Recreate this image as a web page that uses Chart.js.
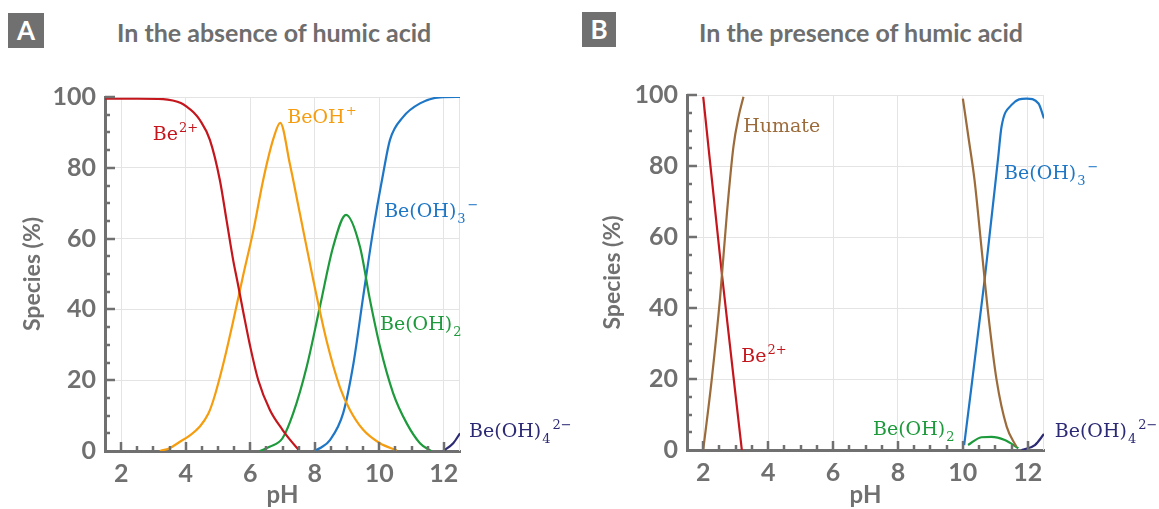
<!DOCTYPE html>
<html>
<head>
<meta charset="utf-8">
<script src="https://cdn.jsdelivr.net/npm/chart.js@4.4.1/dist/chart.umd.min.js"></script>
<style>
    body { margin: 0; width: 1159px; height: 509px; background: #fff; position: relative; overflow: hidden; font-family: Lato, sans-serif; }
    .panel { position: absolute; top: 0; height: 509px; }
    .badge { position: absolute; background: #707070; color: #fff; font: bold 26px Lato, sans-serif; text-align: center; }
    .title { position: absolute; color: #6e6e6e; font: bold 25px Lato, sans-serif; white-space: nowrap; line-height: 30px; }
</style>
</head>
<body>
<div class="badge" style="left:8px;top:13px;width:36px;height:35px;line-height:35px">A</div>
<div class="title" style="left:117px;top:17px">In the absence of humic acid</div>
<div class="badge" style="left:582px;top:12px;width:34px;height:35px;line-height:35px">B</div>
<div class="title" style="left:699px;top:17px">In the presence of humic acid</div>
<div class="panel" style="left:0;width:580px"><canvas id="chartA"></canvas></div>
<div class="panel" style="left:580px;width:579px"><canvas id="chartB"></canvas></div>

<script>
// ---- data: panel A (no humic acid) ----
const phA_be = [1.5, 2.5, 3.3, 3.6, 3.85, 4.03, 4.25, 4.44, 4.75, 5.06, 5.27, 5.47, 5.6, 5.79, 6.0, 6.25, 6.61, 7.0, 7.25, 7.5];
const pctA_be = [99.5, 99.5, 99.4, 99, 98.3, 97.3, 95.6, 93.5, 87.9, 76.5, 65, 54, 48, 39, 29.5, 20, 11.6, 6, 3, 0.3];
const phA_beoh = [3.2, 3.5, 3.82, 4.1, 4.44, 4.7, 4.86, 5.17, 5.48, 5.79, 6.1, 6.4, 6.72, 6.93, 7.23, 7.54, 7.96, 8.37, 8.78, 9.09, 9.5, 10.02, 10.54];
const pctA_beoh = [0, 0.8, 2.6, 4.2, 6.9, 10.5, 14.4, 24.8, 37, 50, 62.4, 76.5, 88.3, 92.7, 81, 67, 48, 31, 18, 11.6, 6, 2.2, 0.2];
const phA_oh2 = [6.3, 6.6, 7.0, 7.33, 7.75, 8.16, 8.57, 8.97, 9.4, 9.71, 10.02, 10.43, 10.85, 11.26, 11.6];
const pctA_oh2 = [0, 1.2, 3.6, 10.6, 23.8, 40.8, 57.7, 66.7, 57.7, 42.7, 29.5, 16.3, 7.8, 2.2, 0];
const phA_oh3 = [7.96, 8.2, 8.47, 8.88, 9.2, 9.5, 9.81, 10.12, 10.33, 10.74, 11.26, 11.88, 12.5];
const pctA_oh3 = [0, 1, 3.1, 10.7, 24.8, 43.6, 62.4, 78.4, 87.9, 94.4, 98.2, 99.9, 100];
const phA_oh4 = [11.98, 12.29, 12.5];
const pctA_oh4 = [0, 2.2, 5.0];

// ---- data: panel B (humic acid present) ----
const phB_be = [2.0, 2.57, 3.19];
const pctB_be = [99.5, 50, 0];
const phB_humLow = [2.0, 2.26, 2.52, 2.73, 2.93, 3.09, 3.24];
const pctB_humLow = [0, 19.7, 43, 66.7, 85.4, 93.9, 99.5];
const phB_humHigh = [10.0, 10.18, 10.36, 10.57, 10.78, 11.04, 11.35, 11.65];
const pctB_humHigh = [99, 87.6, 76, 57.3, 38.5, 19.7, 6.6, 0.9];
const phB_oh3 = [10.04, 10.67, 11.09, 11.19, 11.5, 11.96, 12.33, 12.5];
const pctB_oh3 = [1.4, 47.9, 82.6, 91, 97.2, 99, 97.6, 93.4];
const phB_oh2 = [10.16, 10.57, 10.88, 11.29, 11.71];
const pctB_oh2 = [1.4, 3.6, 3.7, 2.8, 0.5];
const phB_oh4 = [11.81, 12.22, 12.5];
const pctB_oh4 = [0, 1.4, 4.5];

// ---- axes ----
const xTicks = [2, 4, 6, 8, 10, 12];
const yTicks = [0, 20, 40, 60, 80, 100];

const RED = '#c4161c', ORANGE = '#f59d0e', GREEN = '#1d9a3b', BLUE = '#1e76c6', NAVY = '#2c2a74', BROWN = '#9c6b3b';
const AXIS = '#707070', GRID = '#e4e4e4';

// species labels: x = pH of left edge, y = baseline value
const labelsA = [
    { x: 2.98, y: 87.9, base: 'Be', sup: '2+', color: RED },
    { x: 7.15, y: 92.7, base: 'BeOH', sup: '+', color: ORANGE },
    { x: 10.15, y: 66.2, base: 'Be(OH)', sub: '3', sup: '\u2212', color: BLUE },
    { x: 10.02, y: 34.2, base: 'Be(OH)', sub: '2', color: GREEN },
    { x: 12.78, y: 4.0, base: 'Be(OH)', sub: '4', sup: '2\u2212', color: NAVY },
];
const labelsB = [
    { x: 3.23, y: 89.6, base: 'Humate', color: BROWN },
    { x: 3.17, y: 24.8, base: 'Be', sup: '2+', color: RED },
    { x: 7.23, y: 4.2, base: 'Be(OH)', sub: '2', color: GREEN },
    { x: 11.27, y: 76.3, base: 'Be(OH)', sub: '3', sup: '\u2212', color: BLUE },
    { x: 12.83, y: 3.7, base: 'Be(OH)', sub: '4', sup: '2\u2212', color: NAVY },
];

function line(ph, pct, color) {
    return {
        data: ph.map((x, i) => ({ x, y: pct[i] })),
        borderColor: color,
        borderWidth: 2.2,
        pointRadius: 0,
        fill: false,
        tension: 0.4,
        cubicInterpolationMode: 'monotone',
    };
}

// inward ticks, light frame, and species labels
const decor = {
    id: 'decor',
    beforeDatasetsDraw(chart) {
        const { ctx, chartArea: a } = chart;
        ctx.save();
        ctx.strokeStyle = GRID;
        ctx.lineWidth = 1;
        ctx.beginPath();
        ctx.moveTo(a.right - 0.5, a.top);
        ctx.lineTo(a.right - 0.5, a.bottom);
        ctx.stroke();
        ctx.restore();
    },
    afterDraw(chart, args, opts) {
        const { ctx, chartArea: a, scales: { x, y } } = chart;
        ctx.save();
        ctx.strokeStyle = AXIS;
        ctx.lineWidth = 2.5;
        ctx.beginPath();
        for (let v = 2; v <= 12.01; v += 0.5) {
            const px = Math.round(x.getPixelForValue(v));
            const len = v % 2 === 0 ? 9 : 5;
            ctx.moveTo(px, a.bottom);
            ctx.lineTo(px, a.bottom - len);
        }
        for (let v = 5; v <= 100; v += 5) {
            const py = Math.round(y.getPixelForValue(v));
            const len = v % 20 === 0 ? 10 : 5;
            ctx.moveTo(a.left, py);
            ctx.lineTo(a.left + len, py);
        }
        ctx.stroke();

        ctx.textBaseline = 'alphabetic';
        ctx.textAlign = 'left';
        (opts.items || []).forEach((it) => {
            let px = x.getPixelForValue(it.x);
            const py = y.getPixelForValue(it.y);
            ctx.fillStyle = it.color;
            ctx.font = '19px "DejaVu Serif"';
            ctx.fillText(it.base, px, py);
            px += ctx.measureText(it.base).width;
            ctx.font = '13px "DejaVu Serif"';
            if (it.sub) {
                ctx.fillText(it.sub, px + 1, py + 6);
                px += ctx.measureText(it.sub).width + 2;
            }
            if (it.sup) {
                ctx.fillText(it.sup, px + 1, py - 8);
            }
        });
        ctx.restore();
    },
};

function makeChart(id, datasets, items, pad, yWidth) {
    return new Chart(document.getElementById(id), {
        type: 'line',
        data: { datasets },
        options: {
            responsive: true,
            maintainAspectRatio: false,
            animation: false,
            layout: { padding: { top: pad.top, right: pad.right, bottom: 0, left: 0 } },
            plugins: {
                legend: { display: false },
                tooltip: { enabled: false },
                decor: { items },
            },
            scales: {
                x: {
                    type: 'linear',
                    min: 1.5,
                    max: 12.5,
                    afterBuildTicks: (s) => { s.ticks = xTicks.map((value) => ({ value })); },
                    afterFit: (s) => { s.height = pad.xHeight; },
                    grid: { color: GRID, lineWidth: 1, drawTicks: false },
                    border: { color: AXIS, width: 3 },
                    ticks: { color: AXIS, padding: 8, font: { family: 'Lato', size: 25, weight: 'bold' } },
                    title: {
                        display: true,
                        text: 'pH',
                        color: AXIS,
                        padding: { top: 0, bottom: -1 },
                        font: { family: 'Lato', size: 24, weight: 'bold' },
                    },
                },
                y: {
                    min: 0,
                    max: 100,
                    afterBuildTicks: (s) => { s.ticks = yTicks.map((value) => ({ value })); },
                    afterFit: (s) => { s.width = yWidth; },
                    grid: { color: GRID, lineWidth: 1, drawTicks: false },
                    border: { color: AXIS, width: 3 },
                    ticks: { color: AXIS, padding: 9, font: { family: 'Lato', size: 25, weight: 'bold' } },
                    title: {
                        display: true,
                        text: 'Species (%)',
                        color: AXIS,
                        padding: { top: 19, bottom: 0 },
                        font: { family: 'Lato', size: 23, weight: 'bold' },
                    },
                },
            },
        },
        plugins: [decor],
    });
}

makeChart('chartA', [
    line(phA_be, pctA_be, RED),
    line(phA_beoh, pctA_beoh, ORANGE),
    line(phA_oh2, pctA_oh2, GREEN),
    line(phA_oh3, pctA_oh3, BLUE),
    line(phA_oh4, pctA_oh4, NAVY),
], labelsA, { top: 97, right: 120, xHeight: 58 }, 105);

makeChart('chartB', [
    line(phB_humLow, pctB_humLow, BROWN),
    line(phB_humHigh, pctB_humHigh, BROWN),
    line(phB_be, pctB_be, RED),
    line(phB_oh3, pctB_oh3, BLUE),
    line(phB_oh2, pctB_oh2, GREEN),
    line(phB_oh4, pctB_oh4, NAVY),
], labelsB, { top: 95, right: 115, xHeight: 59 }, 107);
</script>
</body>
</html>
